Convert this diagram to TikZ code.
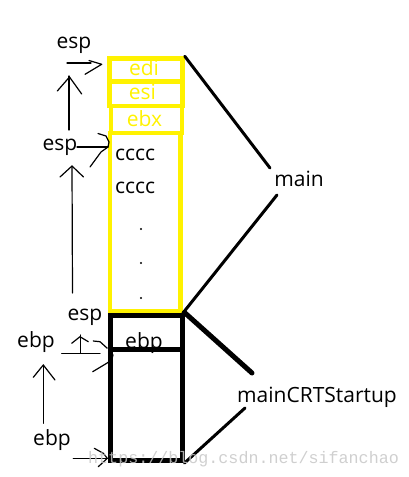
\documentclass[tikz,border=0pt]{standalone}
\usepackage{fontspec}
\setmainfont{Open Sans}
\newfontfamily\wmfont{Liberation Mono}
\definecolor{pyellow}{RGB}{255,242,0}
\begin{document}
\begin{tikzpicture}[x=1pt,y=-1pt,
  lbl/.style={font=\fontsize{21}{24}\selectfont, inner sep=0pt, anchor=base},
  ybox/.style={draw=pyellow, line width=4.5pt, inner sep=0pt},
  kbox/.style={draw=black, line width=5pt, inner sep=0pt},
  hand/.style={line width=1.2pt, line cap=round, line join=round},
  conn/.style={line width=3pt, line cap=round},
  dotnode/.style={circle, fill=black, inner sep=0pt, minimum size=2.4pt}
]
\useasboundingbox (0,0) rectangle (409,477);

% yellow stack (main)
\node[ybox, minimum width=70.5pt, minimum height=178pt] (mainbox) at (145.25,222) {};
\node[ybox, minimum width=71pt, minimum height=27pt] (ebxbox) at (146.5,119.5) {};
\node[ybox, minimum width=73pt, minimum height=24.5pt] (esibox) at (146,93.75) {};
\node[ybox, minimum width=73pt, minimum height=23pt] (edibox) at (146,70) {};

% black stack (mainCRTStartup)
\node[kbox, minimum width=72pt, minimum height=111pt] (kbox2) at (146,405) {};
\node[kbox, minimum width=72pt, minimum height=34.5pt] (kbox1) at (146,332.25) {};

% texts in stack
\node[lbl, text=pyellow] (tedi) at (144,75.5) {edi};
\node[lbl, text=pyellow] (tesi) at (142.5,99.5) {esi};
\node[lbl, text=pyellow] (tebx) at (144.5,126) {ebx};
\node[lbl, anchor=base west] (tc1) at (115,160) {cccc};
\node[lbl, anchor=base west] (tc2) at (115,193) {cccc};
\node[dotnode] (d1) at (141,229) {};
\node[dotnode] (d2) at (141,263) {};
\node[dotnode] (d3) at (141,298) {};
\node[lbl] (tebpin) at (144,348) {ebp};

% side labels
\node[lbl] (esp1) at (74,48) {esp};
\node[lbl] (esp2) at (60,150) {esp};
\node[lbl] (esp3) at (85,320) {esp};
\node[lbl] (ebp1) at (36,347) {ebp};
\node[lbl] (ebp2) at (52,445) {ebp};
\node[lbl] (tmain) at (299,186) {main};
\node[lbl] (tcrt) at (317,402) {mainCRTStartup};

% connectors to labels
\coordinate (m1) at (270,168);
\coordinate (m2) at (277,195);
\coordinate (c1) at (252,373);
\coordinate (c2) at (245,408);
\draw[conn] (edibox.north east) -- (m1);
\draw[conn] (mainbox.south east) -- (m2);
\draw[conn, line width=5pt] (kbox1.north east) -- (c1);
\draw[conn] (kbox2.south east) -- (c2);

% hand-drawn arrows
% esp1 pointer
\draw[hand] (67,63) -- (91,63);
\draw[hand] (89,60.5) -- (101.7,64.3) -- (85,74.3);
% vertical esp2 -> esp1
\draw[hand] (69,130) -- (69,76);
\draw[hand] (57.3,91) -- (69.5,77) -- (81.7,94);
% esp2 pointer
\draw[hand] (77,147) -- (108,147);
\draw[hand] (98,133.5) -- (106,136) -- (109,142) -- (108,147) -- (101,152) -- (90,167);
% vertical esp3 -> esp2
\draw[hand] (72.5,293) -- (72,166);
\draw[hand] (60,177) -- (72,166) -- (83.5,177);
% esp3 small arrow
\draw[hand] (80.5,353) -- (80.5,335);
\draw[hand] (71.7,343.3) -- (80,336.7) -- (88.3,341.7);
\draw[hand] (61.7,353.3) -- (100,353.3);
\draw[hand] (93.3,341) -- (100,341.7) -- (107.3,348.3);
\draw[hand] (110,351.7) -- (113,355) -- (111.7,360) -- (106.7,363.3) -- (92.7,371.7);
% ebp2 -> ebp1
\draw[hand] (43.3,423.3) -- (43.3,365);
\draw[hand] (33.3,377.3) -- (43.3,365) -- (55,380);
% ebp2 pointer
\draw[hand] (73.3,458.3) -- (108.3,458.3);
\draw[hand] (94.3,448.3) -- (103.3,453.3) -- (107.3,458.3) -- (98.3,466.7);

% watermark
\node[font=\wmfont\fontsize{16.7}{18}\selectfont, text=black!22, text opacity=0.85, inner sep=0pt, anchor=base west] (wm) at (88,463) {https://blog.csdn.net/sifanchao};
\end{tikzpicture}
\end{document}
